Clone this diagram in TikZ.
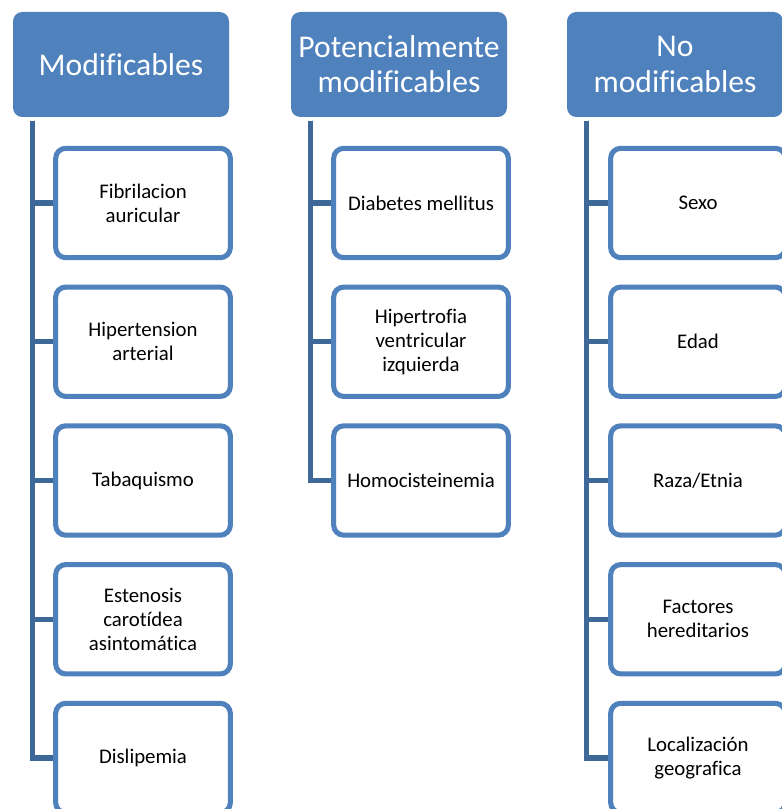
\documentclass[tikz,border=0pt]{standalone}
\usepackage{fontspec}
\setmainfont{Carlito}[Ligatures=NoCommon]
\usetikzlibrary{backgrounds}
\definecolor{azul}{RGB}{79,129,189}
\definecolor{azuloscuro}{RGB}{62,104,152}
\begin{document}
\begin{tikzpicture}[x=0.75pt,y=-0.75pt,line cap=butt,line join=miter]
			\tikzset{cabeza/.style={fill=azul,text=white,rounded corners=7pt,align=center,
					minimum width=162pt,minimum height=78.75pt,inner sep=0pt,
					font=\fontsize{23.7}{26.3}\selectfont},
				factor/.style={draw=azul,fill=white,line width=3.8pt,rounded corners=7.5pt,
					align=center,minimum width=131pt,minimum height=82pt,inner sep=0pt,
					font=\fontsize{15.6}{18}\selectfont},
				rama/.style={draw=azuloscuro,line width=3.8pt}}
			\useasboundingbox (0,0) rectangle (781,809);
			% encabezados
			\node[cabeza] (h1) at (121,64.5) {Modificables};
			\node[cabeza] (h2) at (399,64.5) {Potencialmente\\modificables};
			\node[cabeza] (h3) at (675,64.5) {No\\modificables};
			\coordinate (t1) at ([xshift=14.5pt,yshift=-2.5pt]h1.south west);
			\coordinate (t2) at ([xshift=14.5pt,yshift=-2.5pt]h2.south west);
			\coordinate (t3) at ([xshift=14.5pt,yshift=-2.5pt]h3.south west);
			% factores
			\foreach \t [count=\i] in {{Fibrilacion\\auricular},{Hipertension\\arterial},
				Tabaquismo,{Estenosis\\carotídea\\asintomática},Dislipemia}{
					\node[factor] (a\i) at (143,{203+138.75*(\i-1)}) {\t};}
			\foreach \t [count=\i] in {Diabetes mellitus,{Hipertrofia\\ventricular\\izquierda},
				Homocisteinemia}{
					\node[factor] (b\i) at (421,{203+138.75*(\i-1)}) {\t};}
			\foreach \t [count=\i] in {Sexo,Edad,Raza/Etnia,{Factores\\hereditarios},
				{Localización\\geografica}}{
					\node[factor] (c\i) at (698,{203+138.75*(\i-1)}) {\t};}
			% ramas
			\begin{scope}[on background layer]
				\foreach \i in {1,...,5}{
						\draw[rama] (t1) |- (a\i.west);
						\draw[rama] (t3) |- (c\i.west);}
				\foreach \i in {1,...,3}{
						\draw[rama] (t2) |- (b\i.west);}
			\end{scope}
		\end{tikzpicture}
\end{document}
